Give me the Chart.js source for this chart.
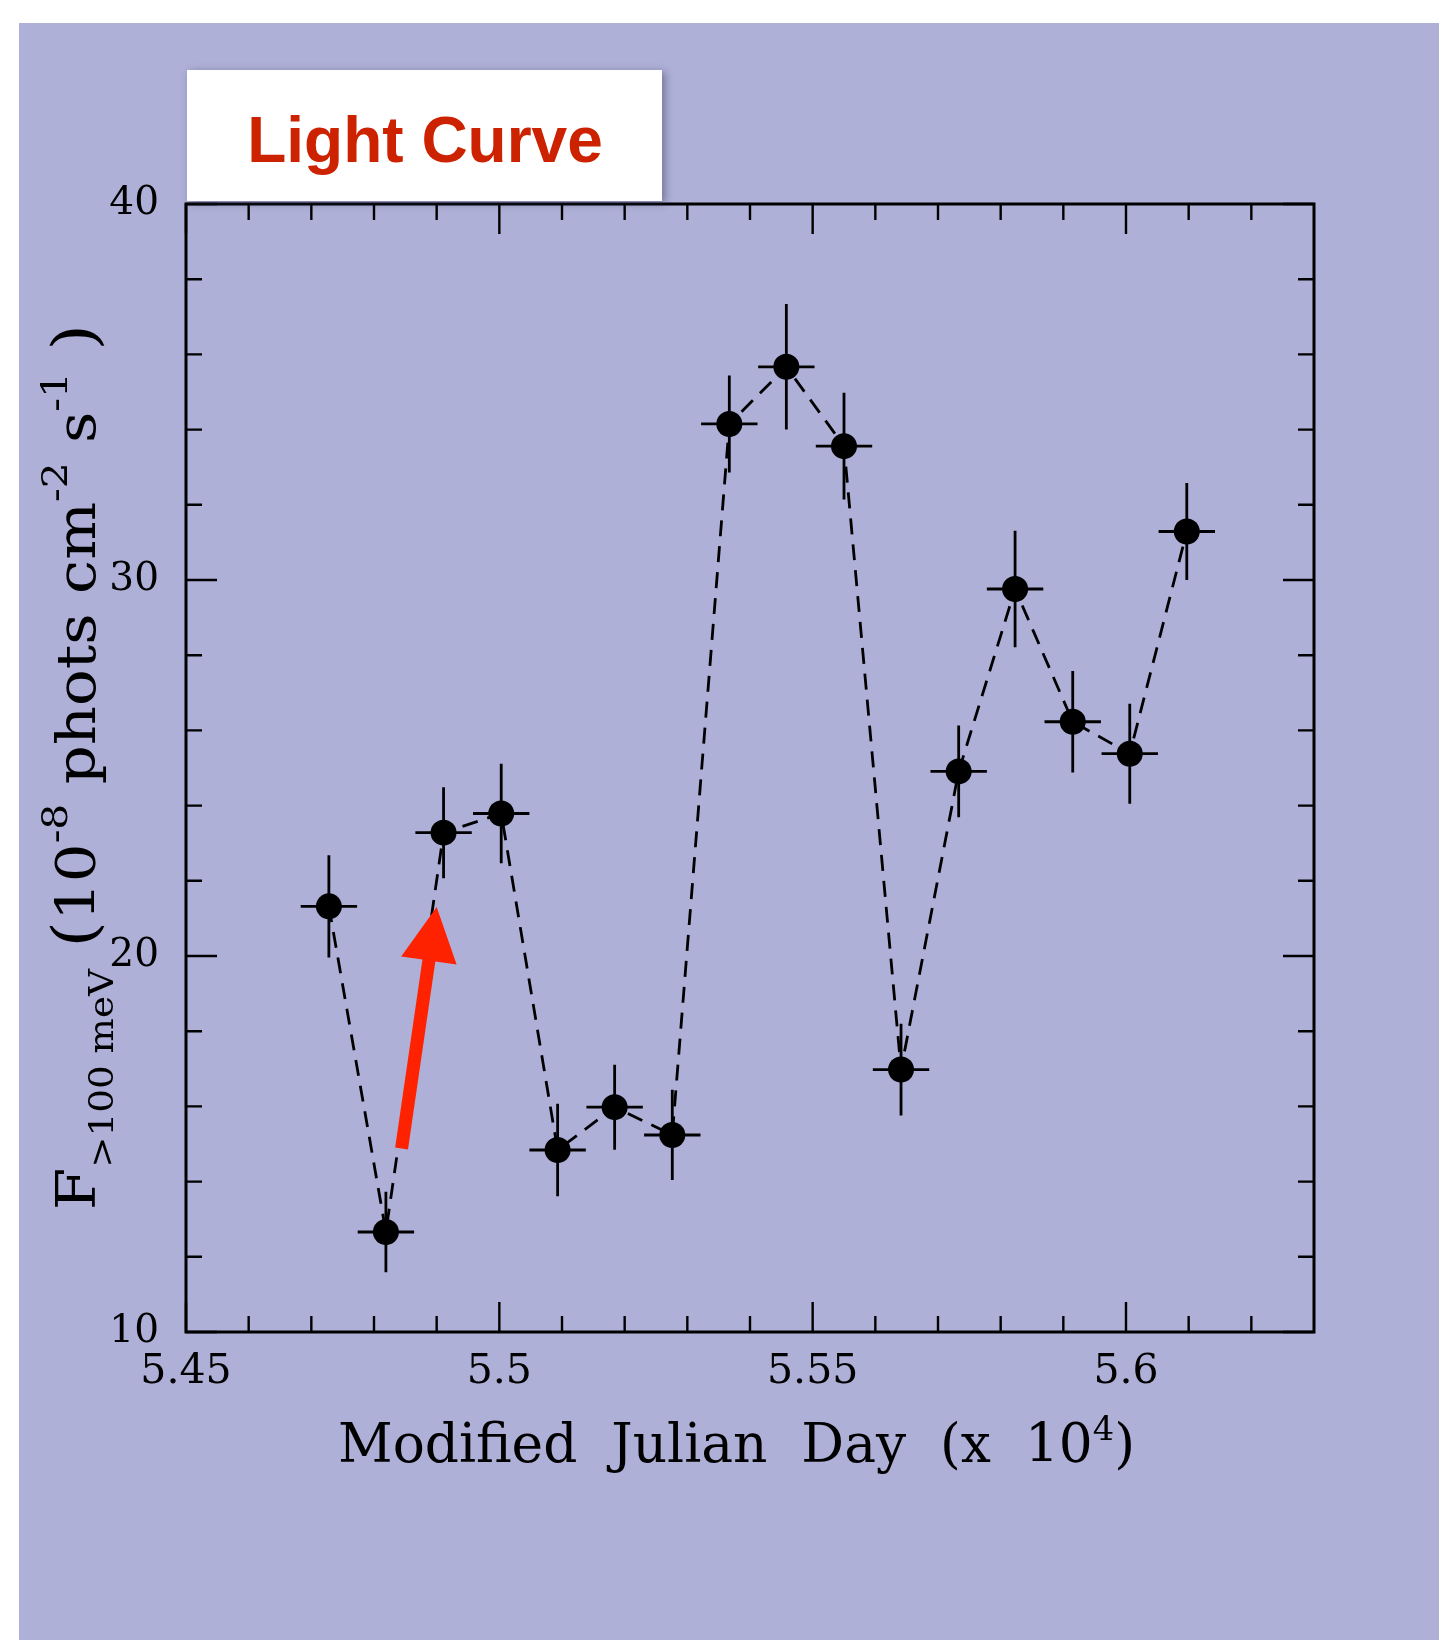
<!DOCTYPE html>
<html>
<head>
<meta charset="utf-8">
<script src="https://cdn.jsdelivr.net/npm/chart.js@4.4.1/dist/chart.umd.min.js"></script>
<style>
  html, body { margin: 0; padding: 0; background: #fff; }
  canvas { display: block; }
</style>
</head>
<body>
<canvas id="lightCurve" width="1444" height="1640"></canvas>
<script>
// bin centres, MJD (x 10^4)
const mjd = [5.4728, 5.4819, 5.4911, 5.5003, 5.5093, 5.5184, 5.5276, 5.5367,
             5.5458, 5.5550, 5.5641, 5.5733, 5.5823, 5.5915, 5.6006, 5.6097];
const mjdErr = [0.0045, 0.0045, 0.0045, 0.0045, 0.0045, 0.0045, 0.0045, 0.0045,
                0.0045, 0.0045, 0.0045, 0.0045, 0.0045, 0.0045, 0.0045, 0.0045];
// flux > 100 MeV, 10^-8 phots cm^-2 s^-1
const flux = [21.32, 12.66, 23.28, 23.79, 14.84, 15.98, 15.24, 34.15,
              35.67, 33.56, 16.98, 24.91, 29.76, 26.23, 25.38, 31.29];
const fluxErr = [1.36, 1.07, 1.21, 1.32, 1.23, 1.13, 1.20, 1.29,
                 1.67, 1.42, 1.22, 1.22, 1.55, 1.35, 1.33, 1.29];

const xTicks = [5.45, 5.5, 5.55, 5.6];
const xTickLabels = ['5.45', '5.5', '5.55', '5.6'];
const xMinorTicks = [5.46, 5.47, 5.48, 5.49, 5.51, 5.52, 5.53, 5.54,
                     5.56, 5.57, 5.58, 5.59, 5.61, 5.62];
const yTicks = [10, 20, 30, 40];
const yTickLabels = ['10', '20', '30', '40'];
const yMinorTicks = [12, 14, 16, 18, 22, 24, 26, 28, 32, 34, 36, 38];

// red arrow pointing at the rise, in data units
const arrowTail = [5.4844, 14.88];
const arrowTip = [5.4900, 21.30];

const serif = 'DejaVu Serif';
const panelColor = '#afb0d8';

const panelBackground = {
    id: 'panelBackground',
    beforeDraw(chart) {
        const ctx = chart.ctx;
        ctx.save();
        ctx.fillStyle = '#ffffff';
        ctx.fillRect(0, 0, chart.width, chart.height);
        ctx.fillStyle = panelColor;
        ctx.fillRect(19, 23, 1420, chart.height - 23);
        ctx.restore();
    }
};

const errorBars = {
    id: 'errorBars',
    beforeDatasetsDraw(chart) {
        const {ctx, scales: {x, y}} = chart;
        ctx.save();
        ctx.strokeStyle = '#000';
        ctx.lineWidth = 2.8;
        ctx.beginPath();
        for (let i = 0; i < mjd.length; i++) {
            const px = x.getPixelForValue(mjd[i]);
            const py = y.getPixelForValue(flux[i]);
            ctx.moveTo(px, y.getPixelForValue(flux[i] - fluxErr[i]));
            ctx.lineTo(px, y.getPixelForValue(flux[i] + fluxErr[i]));
            ctx.moveTo(x.getPixelForValue(mjd[i] - mjdErr[i]), py);
            ctx.lineTo(x.getPixelForValue(mjd[i] + mjdErr[i]), py);
        }
        ctx.stroke();
        ctx.restore();
    }
};

const frameTicks = {
    id: 'frameTicks',
    afterDatasetsDraw(chart) {
        const {ctx, chartArea: a, scales: {x, y}} = chart;
        ctx.save();
        ctx.strokeStyle = '#000';
        ctx.lineWidth = 2.4;
        ctx.beginPath();
        const xt = (v, len) => {
            const p = x.getPixelForValue(v);
            ctx.moveTo(p, a.bottom); ctx.lineTo(p, a.bottom - len);
            ctx.moveTo(p, a.top); ctx.lineTo(p, a.top + len);
        };
        const yt = (v, len) => {
            const p = y.getPixelForValue(v);
            ctx.moveTo(a.left, p); ctx.lineTo(a.left + len, p);
            ctx.moveTo(a.right, p); ctx.lineTo(a.right - len, p);
        };
        xTicks.forEach(v => xt(v, 30));
        xMinorTicks.forEach(v => xt(v, 16));
        yTicks.forEach(v => yt(v, 31));
        yMinorTicks.forEach(v => yt(v, 16));
        ctx.stroke();
        ctx.lineWidth = 3;
        ctx.strokeRect(a.left, a.top, a.right - a.left, a.bottom - a.top);
        ctx.restore();
    }
};

// draws pieces of text one after another, stretched to a given length
function drawRich(ctx, pieces, length) {
    let natural = 0;
    pieces.forEach(p => {
        ctx.font = p.size + 'px "' + serif + '"';
        p.w = ctx.measureText(p.text).width;
        natural += p.w;
    });
    ctx.scale(length / natural, 1);
    let cx = 0;
    pieces.forEach(p => {
        ctx.font = p.size + 'px "' + serif + '"';
        ctx.fillText(p.text, cx, p.dy);
        cx += p.w;
    });
}

const annotations = {
    id: 'annotations',
    afterDraw(chart) {
        const {ctx, chartArea: a, scales: {x, y}} = chart;

        // red arrow
        const x0 = x.getPixelForValue(arrowTail[0]), y0 = y.getPixelForValue(arrowTail[1]);
        const x1 = x.getPixelForValue(arrowTip[0]), y1 = y.getPixelForValue(arrowTip[1]);
        const len = Math.hypot(x1 - x0, y1 - y0);
        ctx.save();
        ctx.translate(x0, y0);
        ctx.rotate(Math.atan2(y1 - y0, x1 - x0));
        ctx.fillStyle = '#ff2200';
        const head = 54, hw = 28, sw = 6.5;
        ctx.beginPath();
        ctx.moveTo(0, -sw);
        ctx.lineTo(len - head, -sw);
        ctx.lineTo(len - head, -hw);
        ctx.lineTo(len, 0);
        ctx.lineTo(len - head, hw);
        ctx.lineTo(len - head, sw);
        ctx.lineTo(0, sw);
        ctx.closePath();
        ctx.fill();
        ctx.restore();

        // x axis title
        ctx.save();
        ctx.fillStyle = '#000';
        ctx.textBaseline = 'alphabetic';
        ctx.translate(a.left + (a.right - a.left) / 2 - 14 - 398, a.bottom + 130);
        drawRich(ctx, [
            {text: 'Modified  Julian  Day  (x  10', size: 54, dy: 0},
            {text: '4', size: 34, dy: -22},
            {text: ')', size: 54, dy: 0}
        ], 797);
        ctx.restore();

        // y axis title
        ctx.save();
        ctx.fillStyle = '#000';
        ctx.translate(a.left - 91, a.bottom - 122);
        ctx.rotate(-Math.PI / 2);
        drawRich(ctx, [
            {text: 'F', size: 54, dy: 0},
            {text: '>100 meV', size: 33, dy: 18},
            {text: ' (', size: 60, dy: 0},
            {text: '10', size: 54, dy: 0},
            {text: '-8', size: 36, dy: -28},
            {text: ' phots cm', size: 54, dy: 0},
            {text: '-2', size: 36, dy: -28},
            {text: ' s', size: 54, dy: 0},
            {text: '-1', size: 36, dy: -28},
            {text: ' )', size: 60, dy: 0}
        ], 886);
        ctx.restore();

        // title box
        ctx.save();
        ctx.shadowColor = 'rgba(40, 40, 80, 0.45)';
        ctx.shadowBlur = 8;
        ctx.shadowOffsetX = 3;
        ctx.shadowOffsetY = 2;
        ctx.fillStyle = '#ffffff';
        ctx.fillRect(187, 70, 475, 131);
        ctx.restore();
        ctx.save();
        ctx.fillStyle = '#cc2200';
        ctx.font = 'bold 64px "Liberation Sans", Arial, sans-serif';
        ctx.textAlign = 'center';
        ctx.textBaseline = 'alphabetic';
        ctx.fillText('Light Curve', 425, 162);
        ctx.restore();
    }
};

const points = mjd.map((m, i) => ({x: m, y: flux[i]}));

const chartConfig = {
    type: 'scatter',
    data: {
        datasets: [{
            label: 'flux',
            data: points,
            showLine: true,
            borderColor: '#000',
            borderWidth: 2.8,
            borderDash: [16, 10],
            pointRadius: 13,
            pointHoverRadius: 13,
            pointBackgroundColor: '#000',
            pointBorderWidth: 0
        }]
    },
    options: {
        responsive: false,
        devicePixelRatio: 1,
        animation: false,
        events: [],
        layout: {padding: {left: 0, top: 204, right: 130, bottom: 0}},
        plugins: {legend: {display: false}, tooltip: {enabled: false}},
        scales: {
            x: {
                type: 'linear',
                min: 5.45,
                max: 5.63,
                afterBuildTicks: scale => { scale.ticks = xTicks.map(v => ({value: v})); },
                afterFit: scale => { scale.height = 308; },
                grid: {display: false, drawTicks: false},
                border: {display: false},
                ticks: {
                    font: {family: serif, size: 41},
                    color: '#000',
                    padding: 16,
                    maxRotation: 0,
                    callback: (v, i) => xTickLabels[i]
                }
            },
            y: {
                type: 'linear',
                min: 10,
                max: 40,
                afterBuildTicks: scale => { scale.ticks = yTicks.map(v => ({value: v})); },
                afterFit: scale => { scale.width = 186; },
                grid: {display: false, drawTicks: false},
                border: {display: false},
                ticks: {
                    font: {family: serif, size: 39},
                    color: '#000',
                    padding: 27,
                    callback: (v, i) => yTickLabels[i]
                }
            }
        }
    },
    plugins: [panelBackground, errorBars, frameTicks, annotations]
};

const lightCurveChart = new Chart(document.getElementById('lightCurve'), chartConfig);
</script>
</body>
</html>
